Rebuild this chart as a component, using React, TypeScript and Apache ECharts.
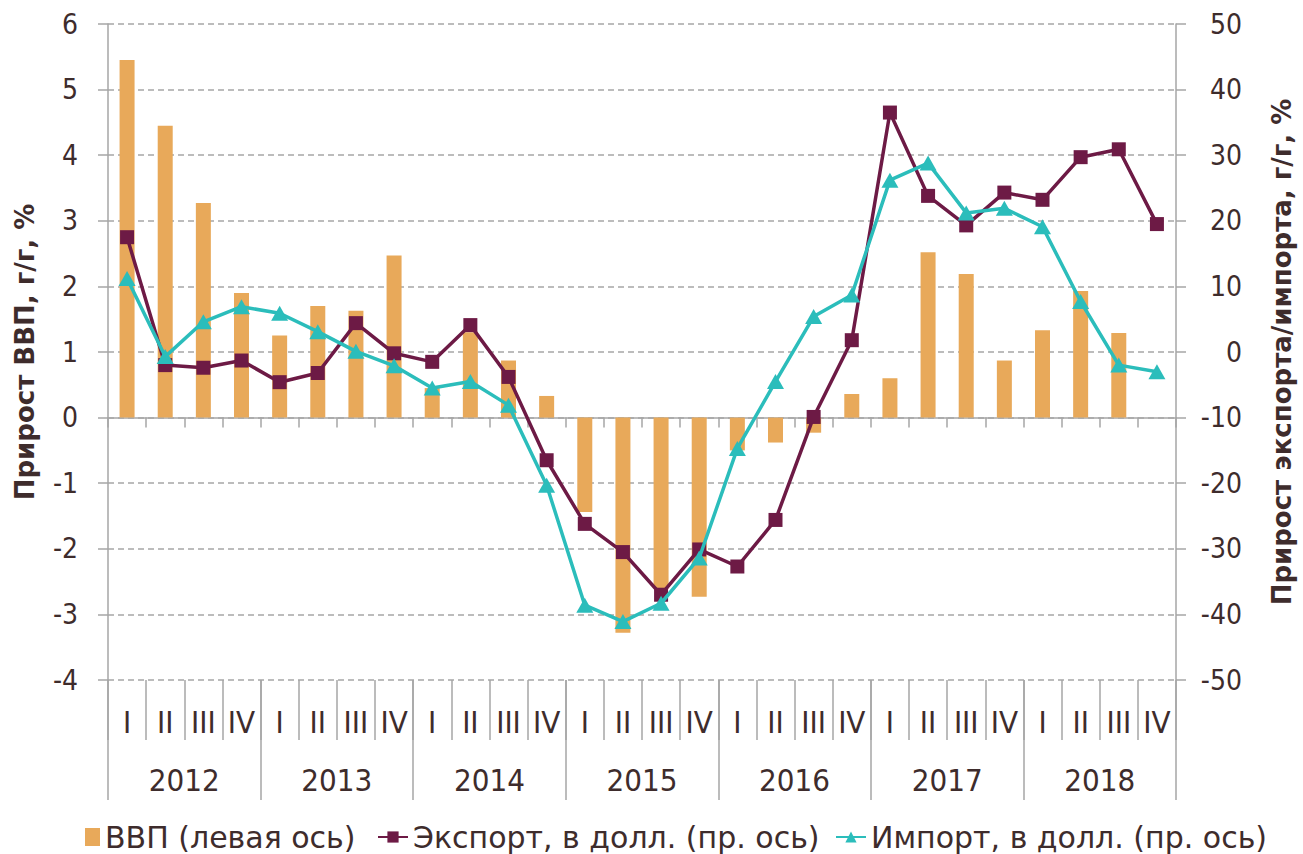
import React, { useEffect, useRef } from "react";
import * as echarts from "echarts";

const years = ["2012", "2013", "2014", "2015", "2016", "2017", "2018"];
const quarterLabels = ["I", "II", "III", "IV"];
const quarterCats = years.flatMap(() => quarterLabels);

// ВВП, г/г, % (left axis)
const gdp = [
  5.45, 4.45, 3.27, 1.9,
  1.25, 1.7, 1.63, 2.47,
  0.45, 1.3, 0.87, 0.33,
  -1.44, -3.28, -2.6, -2.73,
  -0.5, -0.38, -0.23, 0.36,
  0.6, 2.52, 2.19, 0.87,
  1.33, 1.93, 1.29, null,
];

// Экспорт, в долл., г/г, % (right axis)
const exportVals = [
  17.5, -2.0, -2.4, -1.3,
  -4.6, -3.2, 4.4, -0.2,
  -1.5, 4.1, -3.8, -16.5,
  -26.2, -30.5, -37.0, -30.1,
  -32.7, -25.6, -9.9, 1.8,
  36.5, 23.8, 19.3, 24.3,
  23.2, 29.7, 30.9, 19.5,
];

// Импорт, в долл., г/г, % (right axis)
const importVals = [
  11.2, -0.7, 4.6, 6.9,
  5.9, 3.1, 0.1, -2.1,
  -5.5, -4.5, -8.1, -20.3,
  -38.6, -41.1, -38.3, -31.4,
  -14.7, -4.5, 5.4, 8.7,
  26.2, 28.8, 21.2, 21.9,
  19.1, 7.7, -2.0, -3.0,
];

const gdpName = "ВВП (левая ось)";
const exportName = "Экспорт, в долл. (пр. ось)";
const importName = "Импорт, в долл. (пр. ось)";
const leftAxisName = "Прирост ВВП, г/г, %";
const rightAxisName = "Прирост экспорта/импорта, г/г, %";

const FONT = '"DejaVu Sans Condensed", "Liberation Sans Narrow", "DejaVu Sans", sans-serif';
const WIDE_FONT = '"DejaVu Sans", sans-serif';
const TEXT = "#3e2c2c";
const GRAY = "#a6a6a6";
const BAR = "#e8a95a";
const EXP = "#6d1a45";
const IMP = "#2bbdbb";

export default function App() {
  const ref = useRef<HTMLDivElement>(null);
  useEffect(() => {
    document.body.style.margin = "0";
    if (!ref.current) return;
    const chart = echarts.init(ref.current, undefined, { renderer: "svg" });
    const legendText = { fontFamily: WIDE_FONT, fontSize: 30, color: TEXT };
    chart.setOption({
      animation: false,
      textStyle: { fontFamily: FONT },
      grid: { left: 108, right: 127, top: 24, bottom: 174 },
      legend: [
        {
          data: [{ name: gdpName, icon: "rect" }],
          left: 80, top: 817, itemWidth: 15, itemHeight: 18, itemGap: 0,
          textStyle: legendText, selectedMode: false,
        },
        {
          data: [exportName],
          left: 372, top: 817, itemWidth: 30, itemHeight: 14, itemGap: 0,
          textStyle: legendText, selectedMode: false,
        },
        {
          data: [importName],
          left: 830, top: 817, itemWidth: 30, itemHeight: 14, itemGap: 0,
          textStyle: legendText, selectedMode: false,
        },
      ],
      xAxis: [
        {
          type: "category",
          data: quarterCats,
          position: "bottom",
          axisLine: { show: true, onZero: true, lineStyle: { color: GRAY, width: 1.5 } },
          axisTick: { show: true, interval: 0, length: 10, lineStyle: { color: GRAY, width: 1.5 } },
          axisLabel: { show: false },
          splitLine: { show: false },
        },
        {
          type: "category",
          data: quarterCats,
          position: "bottom",
          axisLine: { show: false, onZero: false },
          axisTick: { show: true, interval: 0, length: 60, lineStyle: { color: GRAY, width: 1.5 } },
          axisLabel: { interval: 0, margin: 26, fontSize: 31, color: TEXT, fontFamily: FONT },
          splitLine: { show: false },
        },
        {
          type: "category",
          data: years,
          position: "bottom",
          axisLine: { show: false, onZero: false },
          axisTick: { show: true, interval: 0, length: 120, lineStyle: { color: GRAY, width: 1.5 } },
          axisLabel: { interval: 0, margin: 84, fontSize: 31, color: TEXT, fontFamily: FONT },
          splitLine: { show: false },
        },
      ],
      yAxis: [
        {
          type: "value",
          min: -4,
          max: 6,
          interval: 1,
          name: leftAxisName,
          nameLocation: "middle",
          nameGap: 70,
          nameTextStyle: { fontFamily: WIDE_FONT, fontWeight: "bold", fontSize: 26, color: TEXT },
          axisLine: { show: true, lineStyle: { color: GRAY, width: 1.5 } },
          axisTick: { show: true, length: 10, lineStyle: { color: GRAY, width: 1.5 } },
          axisLabel: { margin: 30, fontSize: 28, color: TEXT, fontFamily: FONT },
          splitLine: { show: true, lineStyle: { color: GRAY, type: [6, 4], width: 1.5 } },
        },
        {
          type: "value",
          min: -50,
          max: 50,
          interval: 10,
          position: "right",
          name: rightAxisName,
          nameLocation: "middle",
          nameGap: 93,
          nameTextStyle: { fontFamily: WIDE_FONT, fontWeight: "bold", fontSize: 26, color: TEXT },
          axisLine: { show: true, lineStyle: { color: GRAY, width: 1.5 } },
          axisTick: { show: true, length: 10, lineStyle: { color: GRAY, width: 1.5 } },
          axisLabel: { margin: 66, align: "right", fontSize: 28, color: TEXT, fontFamily: FONT },
          splitLine: { show: false },
        },
      ],
      series: [
        {
          name: gdpName,
          type: "bar",
          xAxisIndex: 0,
          yAxisIndex: 0,
          data: gdp,
          barWidth: 15,
          itemStyle: { color: BAR },
          z: 1,
        },
        {
          name: exportName,
          type: "line",
          xAxisIndex: 0,
          yAxisIndex: 1,
          data: exportVals,
          symbol: "rect",
          symbolSize: 14,
          lineStyle: { color: EXP, width: 3.5 },
          itemStyle: { color: EXP },
          z: 3,
        },
        {
          name: importName,
          type: "line",
          xAxisIndex: 0,
          yAxisIndex: 1,
          data: importVals,
          symbol: "triangle",
          symbolSize: [17, 15],
          lineStyle: { color: IMP, width: 3.5 },
          itemStyle: { color: IMP },
          z: 4,
        },
      ],
    });
    return () => chart.dispose();
  }, []);
  return <div ref={ref} style={{ width: 1303, height: 854 }} />;
}
